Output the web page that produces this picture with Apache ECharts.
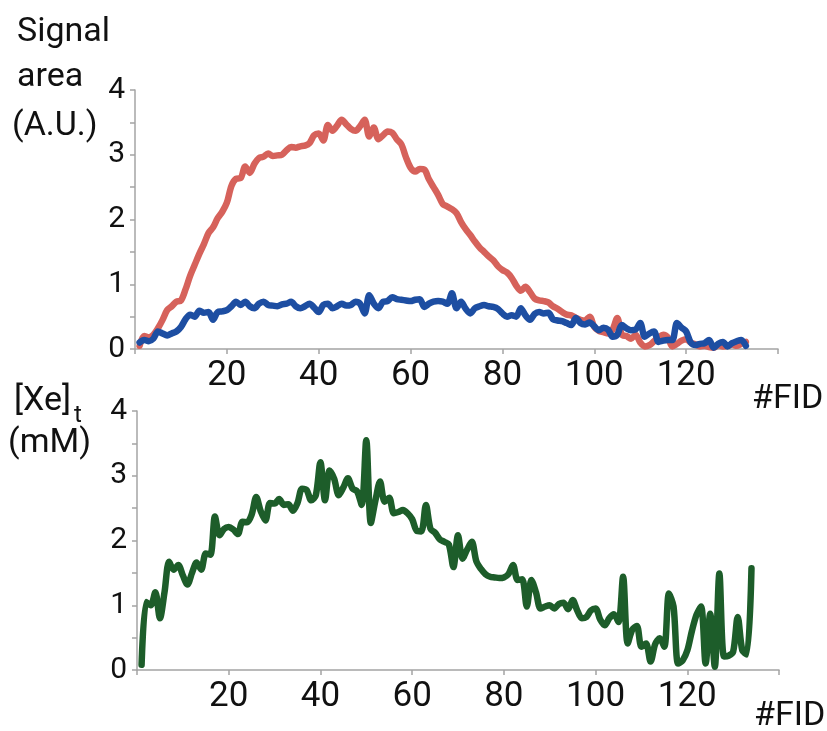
<!DOCTYPE html>
<html>
<head>
<meta charset="utf-8">
<script src="https://cdn.jsdelivr.net/npm/echarts@6/dist/echarts.min.js"></script>
<style>
  html, body { margin: 0; padding: 0; background: #fff; }
  #chart { width: 827px; height: 731px; }
</style>
</head>
<body>
<div id="chart"></div>
<script>
// Signal area per FID (A.U.), two traces
const signalRed = [
  0.05, 0.20, 0.18, 0.22, 0.32, 0.45, 0.60, 0.66, 0.73, 0.75,
  0.92, 1.13, 1.30, 1.47, 1.62, 1.79, 1.88, 2.02, 2.12, 2.26,
  2.52, 2.63, 2.64, 2.82, 2.72, 2.86, 2.95, 2.97, 3.02, 2.98,
  2.99, 3.00, 3.07, 3.12, 3.11, 3.13, 3.14, 3.18, 3.30, 3.33,
  3.22, 3.46, 3.37, 3.45, 3.54, 3.47, 3.40, 3.37, 3.44, 3.54,
  3.28, 3.42, 3.24, 3.30, 3.36, 3.34, 3.24, 3.16, 2.96, 2.80,
  2.74, 2.78, 2.77, 2.62, 2.50, 2.38, 2.24, 2.20, 2.16, 2.10,
  1.96, 1.85, 1.76, 1.66, 1.57, 1.50, 1.43, 1.37, 1.28, 1.22,
  1.18, 1.10, 0.98, 0.90, 0.96, 0.88, 0.78, 0.75, 0.74, 0.72,
  0.66, 0.62, 0.57, 0.53, 0.52, 0.48, 0.45, 0.44, 0.50, 0.34,
  0.28, 0.26, 0.24, 0.30, 0.48, 0.22, 0.20, 0.16, 0.22, 0.10,
  0.04, 0.06, 0.12, 0.18, 0.22, 0.18, 0.04, 0.08, 0.13, 0.15,
  0.10, 0.07, 0.04, 0.05, 0.03, 0.02, 0.06, 0.04, 0.05, 0.07,
  0.05, 0.08, 0.11
];
const signalBlue = [
  0.10, 0.14, 0.12, 0.16, 0.27, 0.24, 0.21, 0.24, 0.27, 0.34,
  0.46, 0.53, 0.50, 0.59, 0.56, 0.57, 0.45, 0.57, 0.58, 0.60,
  0.66, 0.73, 0.68, 0.73, 0.66, 0.63, 0.70, 0.73, 0.68, 0.67,
  0.66, 0.69, 0.70, 0.73, 0.66, 0.63, 0.66, 0.70, 0.64, 0.57,
  0.68, 0.70, 0.63, 0.66, 0.70, 0.67, 0.68, 0.73, 0.70, 0.55,
  0.83, 0.70, 0.63, 0.73, 0.74, 0.80, 0.77, 0.76, 0.75, 0.74,
  0.76, 0.77, 0.65, 0.70, 0.73, 0.74, 0.73, 0.70, 0.86, 0.63,
  0.73, 0.62, 0.55, 0.63, 0.66, 0.68, 0.66, 0.65, 0.62, 0.55,
  0.50, 0.52, 0.50, 0.63, 0.52, 0.45, 0.54, 0.57, 0.55, 0.56,
  0.46, 0.44, 0.43, 0.40, 0.37, 0.48, 0.40, 0.38, 0.41, 0.35,
  0.29, 0.33, 0.30, 0.19, 0.22, 0.37, 0.32, 0.29, 0.30, 0.40,
  0.19, 0.24, 0.27, 0.11, 0.13, 0.14, 0.14, 0.40, 0.33, 0.27,
  0.10, 0.06, 0.08, 0.09, 0.14, 0.02, 0.08, 0.11, 0.04, 0.09,
  0.12, 0.14, 0.05
];
// Total xenon concentration per FID (mM)
const xenonTotal = [
  0.08, 1.05, 1.00, 1.20, 0.80, 1.20, 1.67, 1.55, 1.62, 1.46,
  1.32, 1.50, 1.66, 1.55, 1.80, 1.78, 2.37, 2.08, 2.18, 2.21,
  2.17, 2.10, 2.29, 2.28, 2.40, 2.67, 2.45, 2.31, 2.58, 2.57,
  2.64, 2.55, 2.56, 2.46, 2.58, 2.80, 2.78, 2.62, 2.70, 3.21,
  2.62, 3.08, 2.95, 2.70, 2.82, 2.96, 2.80, 2.76, 2.55, 3.55,
  2.27, 2.62, 2.91, 2.60, 2.66, 2.42, 2.44, 2.47, 2.42, 2.33,
  2.15, 2.14, 2.55, 2.18, 2.12, 2.02, 1.98, 1.94, 1.59, 2.08,
  1.72, 1.86, 1.98, 1.68, 1.56, 1.48, 1.44, 1.43, 1.42, 1.43,
  1.48, 1.62, 1.39, 1.40, 0.98, 1.39, 1.20, 0.95, 0.98, 1.00,
  0.95, 1.02, 1.04, 0.94, 1.08, 0.92, 0.80, 0.82, 0.92, 0.95,
  0.78, 0.69, 0.80, 0.86, 0.74, 1.44, 0.41, 0.62, 0.68, 0.36,
  0.41, 0.13, 0.40, 0.49, 0.36, 1.18, 0.98, 0.10, 0.15, 0.30,
  0.60, 0.85, 0.98, 0.10, 0.87, 0.05, 1.49, 0.21, 0.22, 0.28,
  0.82, 0.30, 0.24, 1.57
];
const xTicks = [20, 40, 60, 80, 100, 120];
const yTicks = [0, 1, 2, 3, 4];

const FONT = 'Roboto, "Open Sans", sans-serif';
const toPairs = arr => arr.map((v, i) => [i + 1, v]);

const axisGrey = '#a4a4a4';

function xAxisCfg(gridIndex) {
  return {
    gridIndex, type: 'value', min: 0, max: 140, interval: 20,
    axisLine: { show: true, lineStyle: { color: axisGrey, width: 1.5 } },
    axisTick: { show: true, length: 5, lineStyle: { color: axisGrey, width: 1.5 } },
    splitLine: { show: false },
    axisLabel: {
      margin: 10, color: '#111', fontFamily: FONT, fontSize: 35,
      formatter: v => (xTicks.indexOf(v) >= 0 ? String(v) : '')
    }
  };
}
function yAxisCfg(gridIndex) {
  return {
    gridIndex, type: 'value', min: 0, max: 4, interval: 1,
    axisLine: { show: true, lineStyle: { color: axisGrey, width: 1.5 } },
    axisTick: { show: true, length: 5, lineStyle: { color: axisGrey, width: 1.5 } },
    minorTick: { show: true, splitNumber: 2, length: 5, lineStyle: { color: axisGrey, width: 1.5 } },
    splitLine: { show: false },
    axisLabel: {
      margin: 10, color: '#111', fontFamily: FONT, fontSize: 30,
      formatter: v => (yTicks.indexOf(v) >= 0 ? String(v) : '')
    }
  };
}

function label(text, x, y, size) {
  return {
    type: 'text', left: x, top: y,
    style: { text, fill: '#111', font: size + 'px ' + FONT }
  };
}

function trace(data, color, xi) {
  return {
    type: 'line', xAxisIndex: xi, yAxisIndex: xi, data: toPairs(data),
    showSymbol: false, smooth: 0.3,
    lineStyle: { color, width: 6.5, join: 'round', cap: 'round' }
  };
}

const chart = echarts.init(document.getElementById('chart'), null, { renderer: 'canvas' });
chart.setOption({
  backgroundColor: '#fff',
  animation: false,
  grid: [
    { left: 135, right: 49, top: 90, height: 259 },
    { left: 137, right: 48, top: 411, height: 259 }
  ],
  xAxis: [xAxisCfg(0), xAxisCfg(1)],
  yAxis: [yAxisCfg(0), yAxisCfg(1)],
  series: [
    trace(signalRed, '#d6625b', 0),
    trace(signalBlue, '#1d4ea2', 0),
    trace(xenonTotal, '#1d5d2a', 1)
  ],
  graphic: [
    label('Signal', 17, 15, 34),
    label('area', 17, 60, 34),
    label('(A.U.)', 12, 109, 34),
    label('[Xe]', 14, 384, 34),
    label('t', 74, 404, 24),
    label('(mM)', 8, 426, 34),
    label('#FID', 752, 382, 34),
    label('#FID', 754, 699, 34)
  ]
});
</script>
</body>
</html>
